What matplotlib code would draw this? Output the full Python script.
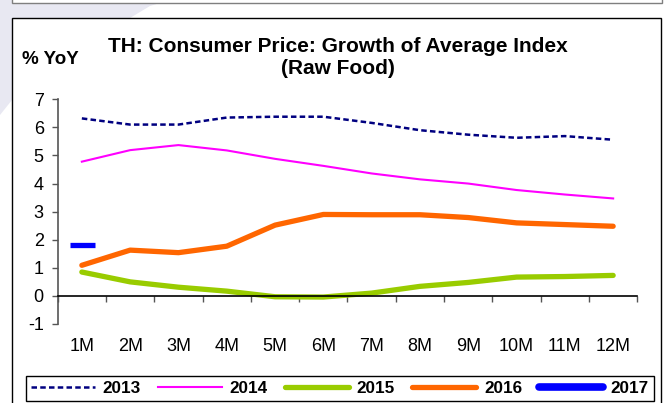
import matplotlib
matplotlib.use("Agg")
import matplotlib.pyplot as plt
from matplotlib.patches import Rectangle, Polygon
from matplotlib.lines import Line2D

plt.rcParams['font.family'] = ['Liberation Sans', 'DejaVu Sans']

months = ["1M", "2M", "3M", "4M", "5M", "6M", "7M", "8M", "9M", "10M", "11M", "12M"]
y2013 = [6.32, 6.10, 6.10, 6.35, 6.38, 6.38, 6.16, 5.90, 5.74, 5.63, 5.69, 5.56]
y2014 = [4.78, 5.19, 5.37, 5.18, 4.88, 4.63, 4.36, 4.15, 4.00, 3.77, 3.61, 3.47]
y2015 = [0.85, 0.50, 0.31, 0.17, -0.03, -0.04, 0.10, 0.34, 0.48, 0.67, 0.69, 0.73]
y2016 = [1.09, 1.63, 1.54, 1.77, 2.52, 2.90, 2.89, 2.89, 2.79, 2.60, 2.54, 2.48]
y2017 = [1.82]
yticks = [-1, 0, 1, 2, 3, 4, 5, 6, 7]

W, H = 665, 403
fig = plt.figure(figsize=(W / 100, H / 100), dpi=100)
fig.patch.set_facecolor("white")


def fx(px):
    return px / W


def fy(py):
    return 1 - py / H


# slide background swoosh and frames (kept underneath the axes)
fig.patches.append(Polygon(
    [(fx(0), fy(0)), (fx(170), fy(0)), (fx(150), fy(6)), (fx(130), fy(18)),
     (fx(80), fy(45)), (fx(35), fy(75)), (fx(12), fy(100)), (fx(0), fy(115))],
    closed=True, transform=fig.transFigure, facecolor="#E8E8F2",
    edgecolor="none", zorder=-3))
fig.patches.append(Rectangle((fx(12), fy(3)), fx(650), fy(-10) - fy(3),
                             transform=fig.transFigure, facecolor="white",
                             edgecolor="#7f7f7f", lw=1.0, zorder=-2))
fig.patches.append(Rectangle((fx(12), fy(420)), fx(649), fy(18) - fy(420),
                             transform=fig.transFigure, facecolor="white",
                             edgecolor="black", lw=1.0, zorder=-2))

ax = fig.add_axes([fx(57.7), fy(324), fx(637.3 - 57.7), fy(99.3) - fy(324)])
ax.set_facecolor("none")
x = list(range(1, len(months) + 1))

ax.plot(x, y2013, color="#000080", lw=1.8, dashes=(2.2, 1.3), label="2013",
        solid_capstyle="butt")
ax.plot(x, y2014, color="#FF00FF", lw=1.5, label="2014")
ax.plot(x, y2015, color="#99CC00", lw=3.8, label="2015",
        solid_capstyle="round", solid_joinstyle="round")
ax.plot(x, y2016, color="#FF6600", lw=3.8, label="2016",
        solid_capstyle="round", solid_joinstyle="round")
ax.plot(x[:len(y2017)], y2017, color="#0000FF", lw=0, marker="_",
        markersize=18, markeredgewidth=3.8, label="2017")

ax.set_xlim(0.5, len(months) + 0.5)
ax.set_ylim(yticks[0], yticks[-1])

for side in ("top", "right"):
    ax.spines[side].set_visible(False)
ax.spines["left"].set_color("#555555")
ax.spines["left"].set_linewidth(1.2)
ax.spines["bottom"].set_position(("data", 0))
ax.spines["bottom"].set_color("black")
ax.spines["bottom"].set_linewidth(1.2)

ax.set_yticks(yticks)
ax.set_yticklabels([str(v) for v in yticks], fontsize=13)
ax.tick_params(axis="y", direction="out", length=4, width=1, color="#555555",
               pad=6)

ax.set_xticks(x)
ax.set_xticklabels(months, fontsize=13)
ax.set_xticks([v + 0.5 for v in range(0, len(months) + 1)], minor=True)
ax.tick_params(axis="x", which="major", length=0, pad=30)
ax.tick_params(axis="x", which="minor", direction="out", length=4, width=1,
               color="#555555")

fig.text(fx(338), fy(46), "TH: Consumer Price: Growth of Average Index",
         ha="center", va="center", fontsize=15, fontweight="bold")
fig.text(fx(338), fy(69), "(Raw Food)", ha="center", va="center",
         fontsize=15, fontweight="bold")
fig.text(fx(22), fy(60), "% YoY", ha="left", va="center", fontsize=13.5,
         fontweight="bold")

handles = [
    Line2D([], [], color="#000080", lw=1.8, dashes=(2.2, 1.3)),
    Line2D([], [], color="#FF00FF", lw=1.5),
    Line2D([], [], color="#99CC00", lw=3.8, solid_capstyle="round"),
    Line2D([], [], color="#FF6600", lw=3.8, solid_capstyle="round"),
    Line2D([], [], color="#0000FF", lw=5.5, solid_capstyle="round"),
]
leg = fig.legend(handles, ["2013", "2014", "2015", "2016", "2017"],
                 loc="center", bbox_to_anchor=(fx(340), fy(388.5)), ncol=5,
                 handlelength=3.75, handletextpad=0.45, columnspacing=1.0,
                 borderpad=0.3, fancybox=False, framealpha=1,
                 edgecolor="black", prop={"size": 12.3, "weight": "bold"})
leg.get_frame().set_linewidth(1.0)

fig.savefig("out.png", dpi=100, facecolor=fig.get_facecolor())
